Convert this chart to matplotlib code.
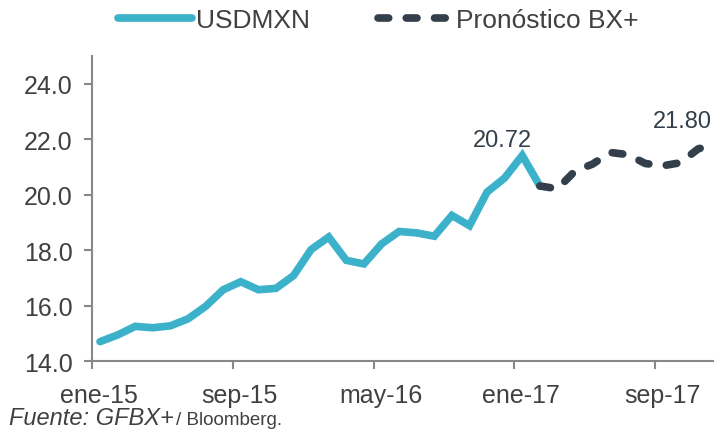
import matplotlib
matplotlib.use("Agg")
from matplotlib import pyplot as plt
from matplotlib import transforms
import numpy as np

plt.rcParams['font.family'] = ['Liberation Sans', 'DejaVu Sans']

# monthly data, ene-15 .. dic-17
usdmxn = [14.70, 14.94, 15.25, 15.20, 15.27, 15.52, 15.97, 16.57, 16.86, 16.57,
          16.62, 17.08, 18.02, 18.47, 17.63, 17.50, 18.22, 18.67, 18.62, 18.50,
          19.25, 18.88, 20.09, 20.60, 21.41, 20.31]
pronostico = [20.31, 20.21, 20.85, 21.10, 21.52, 21.44, 21.12, 21.04, 21.15,
              21.65, 21.80]
tick_labels = ["ene-15", "sep-15", "may-16", "ene-17", "sep-17"]
tick_months = [0, 8, 16, 24, 32]

blue = "#3CB2CA"
dark = "#333F4A"
grey = "#888888"
txt = "#404040"

x_real = np.arange(len(usdmxn))
x_fc = np.arange(len(usdmxn) - 1, len(usdmxn) - 1 + len(pronostico))

fig = plt.figure(figsize=(7.14, 4.31), dpi=100)
ax = fig.add_axes([0.129, 0.160, 0.871, 0.708])

ax.plot(x_real, usdmxn, color=blue, lw=5.5, solid_capstyle="round",
        solid_joinstyle="miter", label="USDMXN")
ax.plot(x_fc, pronostico, color=dark, lw=5.5, dash_capstyle="round",
        dashes=(1.4, 2.3), label="Pronóstico BX+")

ax.text(22.9, 21.76, "20.72", ha="center", va="baseline", fontsize=17, color=dark)
ax.text(33.1, 22.45, "21.80", ha="center", va="baseline", fontsize=17, color=dark)

ax.set_xlim(-0.45, 34.9)
ax.set_ylim(14, 25)
ax.set_yticks(np.arange(14, 25, 2))
ax.set_yticklabels([f"{v:.1f}" for v in np.arange(14, 25, 2)])
ax.set_xticks([m - 0.45 for m in tick_months])
ax.set_xticklabels(tick_labels)

for s in ["top", "right"]:
    ax.spines[s].set_visible(False)
for s in ["left", "bottom"]:
    ax.spines[s].set_color(grey)
    ax.spines[s].set_linewidth(1.5)
ax.tick_params(axis="both", colors=grey, width=1.5, length=6, labelsize=18,
               labelcolor=txt)
ax.tick_params(axis="y", pad=8)
ax.tick_params(axis="x", pad=10)

shift = transforms.ScaledTranslation(0.07, 0, fig.dpi_scale_trans)
for lbl in ax.get_xticklabels():
    lbl.set_transform(lbl.get_transform() + shift)

fig.legend(loc="center", bbox_to_anchor=(0.53, 0.951), ncol=2, frameon=False,
           fontsize=19, handlelength=2.8, handletextpad=0.15, columnspacing=2.6,
           labelcolor=txt)

# source line: italic part, then plain part on the same baseline
src = fig.text(0.012, 0.014, "Fuente: GFBX+", fontsize=17, style="italic",
               color=txt, va="baseline")
fig.canvas.draw()
x_end = src.get_window_extent().x1 / fig.bbox.width
fig.text(x_end + 0.004, 0.014, "/ Bloomberg.", fontsize=13.5, color=txt,
         va="baseline")

fig.savefig("out.png", dpi=100)
